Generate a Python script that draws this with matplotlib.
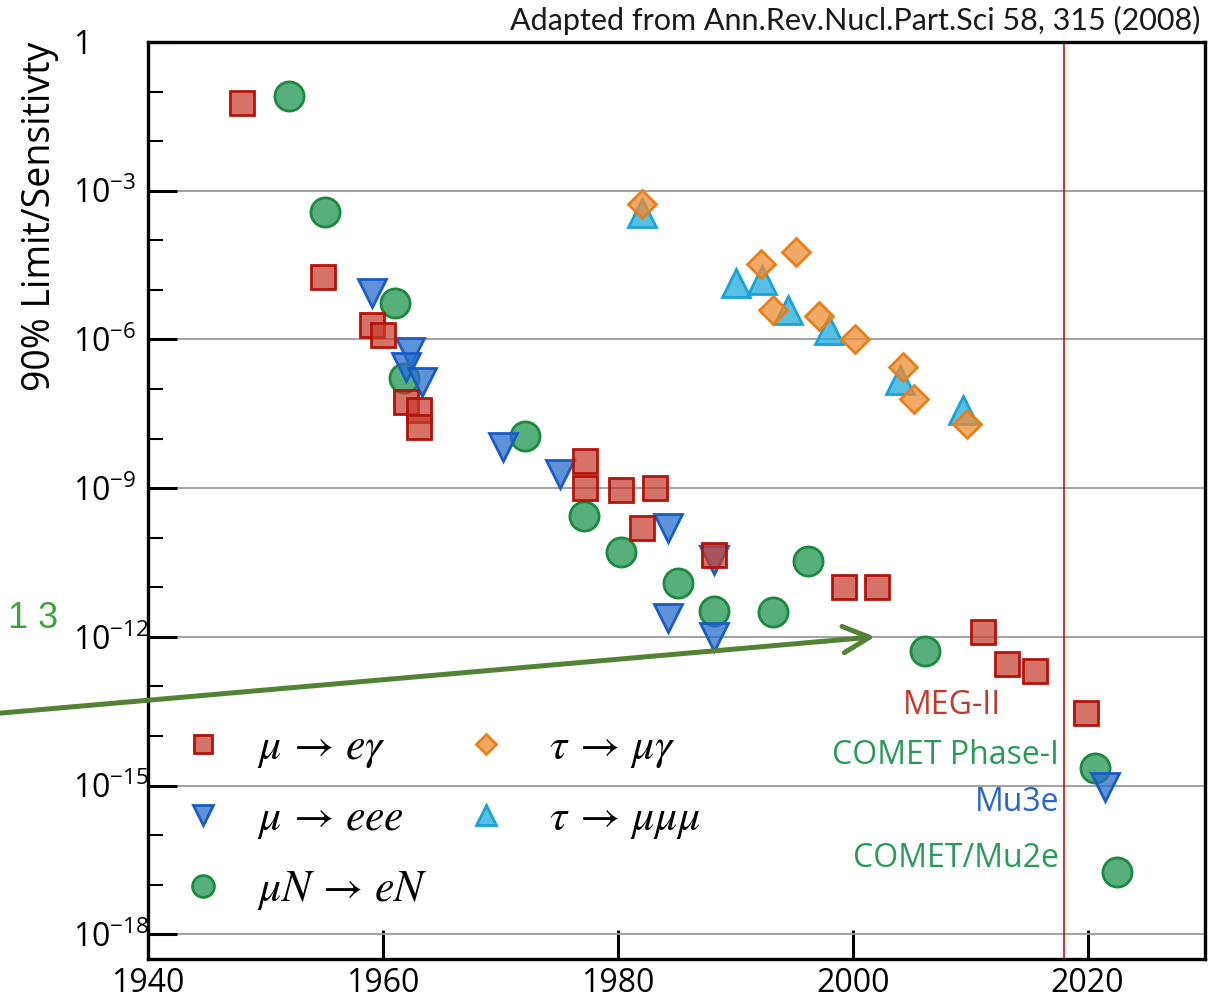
import numpy as np
import matplotlib
matplotlib.use('Agg')
import matplotlib.pyplot as plt
from matplotlib.ticker import FixedLocator, NullFormatter
from matplotlib.font_manager import FontProperties

plt.rcParams['font.family'] = ['Open Sans', 'DejaVu Sans']

# ---------------- data ----------------
meg_year = [1948.0, 1954.9, 1959.1, 1960.0, 1962.0, 1963.1, 1963.1, 1977.2, 1977.2,
            1980.3, 1983.2, 1982.1, 1988.2, 1999.3, 2002.1, 2011.1, 2013.1, 2015.5, 2019.9]
meg_val = [5.8e-2, 1.8e-5, 1.95e-6, 1.2e-6, 5.4e-8, 3.7e-8, 1.7e-8, 3.5e-9, 1.0e-9,
           9.1e-10, 1.0e-9, 1.6e-10, 4.5e-11, 1.0e-11, 1.0e-11, 1.26e-12, 2.8e-13, 2.0e-13, 2.9e-14]

eee_year = [1959.1, 1962.3, 1962.0, 1963.3, 1970.2, 1975.1, 1984.3, 1988.2, 1984.3, 1988.2, 2021.5]
eee_val = [8.5e-6, 5.5e-7, 2.75e-7, 1.4e-7, 6.8e-9, 1.9e-9, 1.55e-10, 3.5e-11, 2.4e-12, 1.0e-12, 9.3e-16]

conv_year = [1952.0, 1955.1, 1961.0, 1961.8, 1972.1, 1977.1, 1980.3, 1985.1, 1988.2,
             1993.2, 1996.2, 2006.2, 2020.6, 2022.5]
conv_val = [8.1e-2, 3.7e-4, 5.4e-6, 1.7e-7, 1.1e-8, 2.8e-10, 5.1e-11, 1.2e-11, 3.3e-12,
            3.2e-12, 3.4e-11, 5.1e-13, 2.3e-15, 1.8e-17]

taug_year = [1982.1, 1992.2, 1995.2, 1993.2, 1997.1, 2000.2, 2004.3, 2005.2, 2009.7]
taug_val = [5.4e-4, 3.3e-5, 5.8e-5, 3.9e-6, 3.0e-6, 1.0e-6, 2.75e-7, 6.2e-8, 2.0e-8]

tau3_year = [1982.1, 1990.1, 1992.3, 1994.5, 1998.0, 2004.0, 2009.4]
tau3_val = [3.5e-4, 1.4e-5, 1.55e-5, 3.9e-6, 1.55e-6, 1.5e-7, 3.7e-8]

labels = [r'$\mu\,\rightarrow\,e\gamma$', r'$\mu\,\rightarrow\,eee$', r'$\mu N\,\rightarrow\,eN$',
          r'$\;\tau\,\rightarrow\,\mu\gamma$', r'$\;\tau\,\rightarrow\,\mu\mu\mu$']

x_ticks = [1940, 1960, 1980, 2000, 2020]
y_major_exp = [0, -3, -6, -9, -12, -15, -18]

future_labels = ['MEG-II', 'COMET Phase-I', 'Mu3e', 'COMET/Mu2e']
future_x = [2012.6, 2017.6, 2017.6, 2017.6]
future_y = [10**-13.38, 10**-14.39, 10**-15.34, 10**-16.47]
future_colors = ['#c0392b', '#2a9a5a', '#2a66c4', '#2a9a5a']

# ---------------- figure ----------------
W, H = 1217, 1002
fig = plt.figure(figsize=(W / 100, H / 100), dpi=100)
ax = fig.add_axes([148 / W, 43 / H, 1057 / W, 917 / H])
ax.set_yscale('log')
ax.set_xlim(1940, 2030)
ax.set_ylim(10**-18.5, 1)

common = dict(linestyle='none', markeredgewidth=2.0)
l3, = ax.plot(conv_year, conv_val, 'o', ms=21, mfc=(0.12, 0.59, 0.31, 0.75), mec='#1c8a3e', label=labels[2], **common)
l2, = ax.plot(eee_year, eee_val, 'v', ms=20, mfc=(0.16, 0.43, 0.80, 0.75), mec='#1a5cc4', label=labels[1], **common)
l1, = ax.plot(meg_year, meg_val, 's', ms=17, mfc=(0.78, 0.24, 0.18, 0.72), mec='#b3140a', label=labels[0], **common)
l5, = ax.plot(tau3_year, tau3_val, '^', ms=20, mfc=(0.12, 0.67, 0.86, 0.75), mec='#1aa3d6', label=labels[4], **common)
l4, = ax.plot(taug_year, taug_val, 'D', ms=14, mfc=(0.94, 0.55, 0.20, 0.75), mec='#e8801a', label=labels[3], **common)

ax.axvline(2018, color='#c00000', lw=1.1, zorder=1.5)

# axes styling
for sp in ax.spines.values():
    sp.set_linewidth(2.4)
    sp.set_color('black')
ax.set_axisbelow(True)
ax.yaxis.set_major_locator(FixedLocator([10.0**e for e in y_major_exp]))
ax.yaxis.set_minor_locator(FixedLocator([10.0**e for e in range(0, -19, -1) if e % 3 != 0]))
ax.yaxis.set_minor_formatter(NullFormatter())
ax.set_yticklabels(['1'] + [r'$\mathregular{10^{%d}}$' % e for e in y_major_exp[1:]], ha='left')
ax.xaxis.set_major_locator(FixedLocator(x_ticks))
ax.set_xticklabels([str(t) for t in x_ticks])
ax.tick_params(axis='y', which='major', direction='in', length=21, width=2.2, labelsize=23, pad=54, right=False)
ax.tick_params(axis='y', which='minor', direction='in', length=11, width=1.5, right=False)
ax.tick_params(axis='x', which='major', direction='in', length=21, width=2.2, labelsize=23, pad=6, top=False)
ax.yaxis.grid(True, which='major', color='#9a9a9a', lw=1.3)
ax.xaxis.grid(False)

ax.set_ylabel('90% Limit/Sensitivty', fontsize=27, va='center')
ax.yaxis.set_label_coords(-0.102, 0.810)

# legend
leg = ax.legend(handles=[l1, l2, l3, l4, l5], ncol=2, frameon=False, loc='upper left',
                bbox_to_anchor=(0.031, 0.2546),
                prop=FontProperties(size=31.5, math_fontfamily='stix'),
                markerscale=0.75, handlelength=1.0, handletextpad=0.75,
                columnspacing=0.834, labelspacing=0.61, borderpad=0, borderaxespad=0)

# future experiment labels
for t, x, y, c in zip(future_labels, future_x, future_y, future_colors):
    ax.text(x, y, t, color=c, fontsize=23, ha='right', va='center')

# green arrow
ax.annotate('', xy=(2001.9, 1e-12), xytext=(1927.4, 10**-13.54), annotation_clip=False,
            arrowprops=dict(arrowstyle='->,head_length=1.9,head_width=0.95', color='#548235',
                            lw=3.6, shrinkA=0, shrinkB=0), zorder=10)

fig.text(8 / W, 1 - 618 / H, '1 3', color='#3aa53a', fontsize=26, family='Liberation Sans',
         ha='left', va='center')
fig.text(1200 / W, 1 - 20 / H, 'Adapted from Ann.Rev.Nucl.Part.Sci 58, 315 (2008)',
         fontsize=22, family='Lato', ha='right', va='center', color='#1a1a1a')

fig.savefig('out.png', dpi=100)
